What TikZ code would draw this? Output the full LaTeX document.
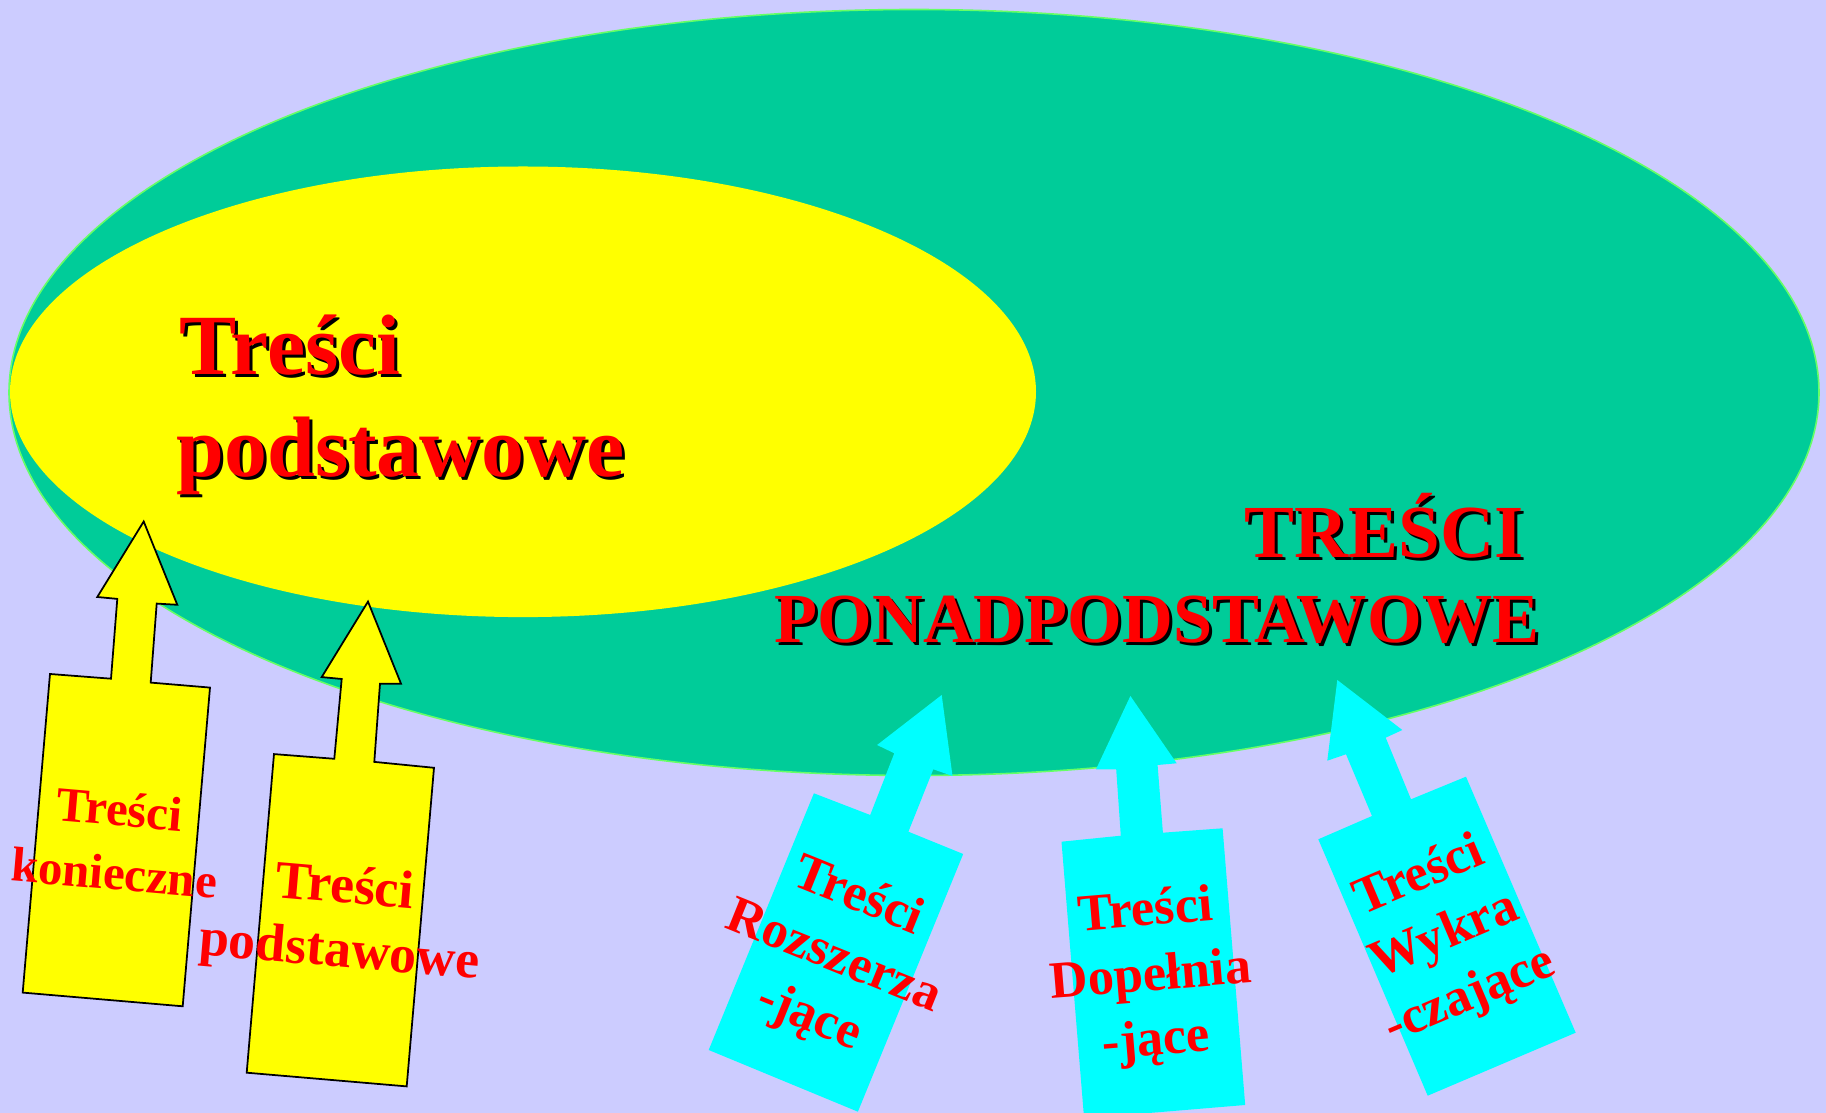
\documentclass[tikz,border=0pt]{standalone}
\usepackage{fontspec}
\setmainfont{Liberation Serif}
\definecolor{bgc}{RGB}{204,204,255}
\definecolor{grn}{RGB}{0,204,153}
\definecolor{grnline}{RGB}{102,255,102}
\definecolor{yel}{RGB}{255,255,0}
\definecolor{cya}{RGB}{0,255,255}
\definecolor{rd}{RGB}{255,0,0}
\tikzset{
  yarrow/.style={fill=yel, draw=black, line width=0.5pt, line join=miter},
  carrow/.style={fill=cya, draw=none},
  bigA/.style={font=\bfseries\fontsize{24.4pt}{29pt}\selectfont, inner sep=0pt},
  bigB/.style={font=\bfseries\fontsize{21.3pt}{25pt}\selectfont, inner sep=0pt},
  bigC/.style={font=\bfseries\fontsize{20pt}{24pt}\selectfont, inner sep=0pt},
  ylbl/.style={text=rd, font=\bfseries\fontsize{13.9pt}{18.2pt}\selectfont, align=center, inner sep=0pt},
  ylblb/.style={text=rd, font=\bfseries\fontsize{15.3pt}{18.2pt}\selectfont, align=center, inner sep=0pt},
  clbl/.style={text=rd, font=\bfseries\fontsize{14.9pt}{18.5pt}\selectfont, align=center, inner sep=0pt},
}
% #1 style, #2 name, #3 anchor, #4 x, #5 y, #6 text
\newcommand\shadowtext[6]{%
  \node[#1, text=black, anchor=#3] at (#4+3,#5+3) {#6};
  \node[#1, text=rd, anchor=#3] (#2) at (#4,#5) {#6};
}
\begin{document}
\begin{tikzpicture}[x=0.01cm,y=-0.01cm]
\useasboundingbox (0,0) rectangle (1826,1113);
\fill[bgc] (0,0) rectangle (1826,1113);
% ellipses
\draw[fill=grn, draw=grnline, line width=0.45pt] (914,392.5) ellipse [x radius=905, y radius=383];
\fill[yel] (523,391.8) ellipse [x radius=513, y radius=225.3];
% texts inside ellipses
\shadowtext{bigA}{t1}{base west}{179}{375}{Treści}
\shadowtext{bigA}{t2}{base west}{176}{477}{podstawowe}
\shadowtext{bigB}{t3}{base east}{1524}{558}{TREŚCI}
\shadowtext{bigC}{t4}{base east}{1540}{643}{PONADPODSTAWOWE}
% yellow block arrows
\draw[yarrow] (143.7,521.5) -- (97.3,597) -- (117.3,598.9) -- (111,678.7) -- (50,674)
  -- (22.7,992.6) -- (182.7,1006.3) -- (210,687.6) -- (150.7,682.6) -- (156.7,603.6) -- (177.3,604.8) -- cycle;
\draw[yarrow] (368,601.6) -- (321.7,677.1) -- (341.7,679) -- (334.3,758.8) -- (274,754.1)
  -- (246.7,1072.7) -- (406.7,1086.4) -- (434,767.8) -- (374.3,761.9) -- (380,683.7) -- (401,683.7) -- cycle;
% cyan block arrows
\fill[carrow] (941.7,695) -- (877.1,745) -- (894.3,753.3) -- (870.2,815) -- (813.9,793.3)
  -- (708.7,1050) -- (857.9,1111.7) -- (963.2,854) -- (908.4,831.7) -- (933.3,769.3) -- (952.5,776) -- cycle;
\fill[carrow] (1130.4,696) -- (1096,769.3) -- (1116.2,769.3) -- (1120.8,835.7) -- (1061.5,841.7)
  -- (1084.1,1118.4) -- (1245.2,1105) -- (1222.6,828.3) -- (1162.9,832.7) -- (1157.6,765) -- (1176.7,763.3) -- cycle;
\fill[carrow] (1337.3,680) -- (1327.3,760.7) -- (1346,754.3) -- (1372,816) -- (1318.3,839.3)
  -- (1427.7,1095.7) -- (1575.7,1032.7) -- (1466,776.7) -- (1411,799.3) -- (1385.7,737.7) -- (1402.3,730) -- cycle;
% labels
\node[ylbl, rotate=-4.9] (l1) at (117,841) {Treści\\konieczne};
\node[ylblb, rotate=-4.9] (l2) at (342,922) {Treści\\podstawowe};
\node[clbl, rotate=-22] (l3) at (833,958) {Treści\\Rozszerza\\-jące};
\node[clbl, rotate=4.7] (l4) at (1151,978) {Treści\\Dopełnia\\-jące};
\node[clbl, rotate=23] (l5) at (1445,937) {Treści\\Wykra\\-czające};
\end{tikzpicture}
\end{document}
